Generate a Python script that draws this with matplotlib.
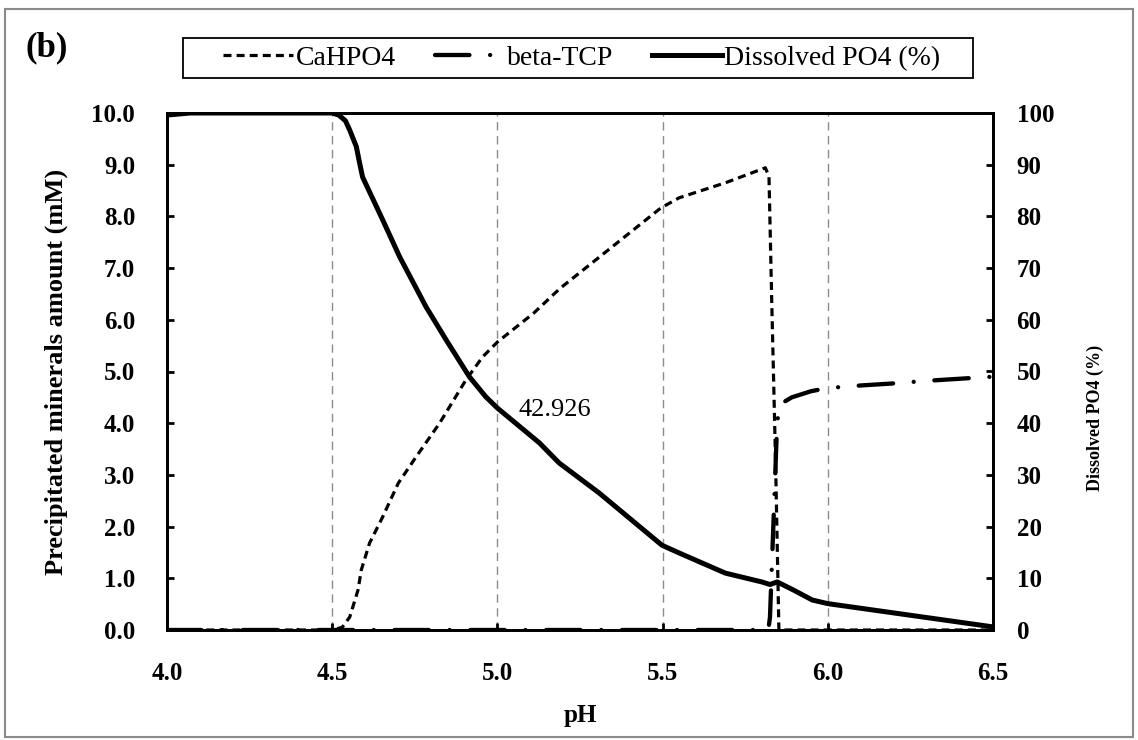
import matplotlib
matplotlib.use('Agg')
import matplotlib.pyplot as plt
from matplotlib.patches import Rectangle
from matplotlib.ticker import FormatStrFormatter

plt.rcParams['font.family'] = ['Liberation Serif', 'DejaVu Serif']

# CaHPO4 precipitated (mM)
ph_ca = [4.0, 4.5, 4.53, 4.553, 4.578, 4.588, 4.613, 4.653, 4.70, 4.754,
         4.825, 4.905, 4.955, 5.0, 5.11, 5.19, 5.3, 5.4, 5.494, 5.55, 5.69,
         5.811, 5.822, 5.83, 5.842, 5.852, 6.0, 6.5]
ca = [0, 0, 0.05, 0.25, 0.77, 1.16, 1.68, 2.19, 2.84, 3.35,
      4.0, 4.84, 5.28, 5.57, 6.13, 6.61, 7.17, 7.68, 8.16, 8.36, 8.65,
      8.94, 8.77, 6.44, 3.23, 0, 0, 0]

# beta-TCP precipitated (mM)
ph_tcp = [4.0, 5.82, 5.825, 5.846, 5.852, 5.87, 5.891, 5.95, 6.0, 6.1,
          6.2, 6.3, 6.4, 6.5]
tcp = [0, 0, 0.25, 3.9, 4.35, 4.42, 4.5, 4.62, 4.68, 4.73,
       4.77, 4.82, 4.86, 4.9]

# dissolved PO4 (%)
ph_po4 = [4.0, 4.07, 4.5, 4.52, 4.54, 4.553, 4.573, 4.583, 4.592, 4.653,
          4.704, 4.784, 4.845, 4.915, 4.965, 5.0, 5.127, 5.187, 5.308,
          5.498, 5.55, 5.69, 5.80, 5.825, 5.847, 5.9, 5.953, 6.0, 6.5]
po4 = [99.6, 100, 100, 99.6, 98.5, 96.7, 93.5, 90.3, 87.6, 79.3,
       72.2, 62.5, 56.1, 49.0, 45.1, 42.926, 36.2, 32.3, 26.5,
       16.4, 14.9, 11.0, 9.3, 8.8, 9.3, 7.6, 5.8, 5.1, 0.6]

x_ticks = [4.0, 4.5, 5.0, 5.5, 6.0, 6.5]
y_ticks = [0, 1, 2, 3, 4, 5, 6, 7, 8, 9, 10]
y2_ticks = [0, 10, 20, 30, 40, 50, 60, 70, 80, 90, 100]

fig = plt.figure(figsize=(11.38, 7.4), dpi=100)
ax = fig.add_axes([167 / 1138, 1 - 630 / 740, 826 / 1138, 517 / 740])
ax2 = ax.twinx()

l1, = ax.plot(ph_ca, ca, color='black', lw=2.3, linestyle=(0, (2.5, 1.6)),
              label='CaHPO4')
l2, = ax.plot(ph_tcp, tcp, color='black', lw=3.1,
              linestyle=(0, (8, 4.8, 0.01, 4.8)), dash_capstyle='round',
              label='beta-TCP')
l3, = ax2.plot(ph_po4, po4, color='black', lw=3.6,
               label='Dissolved PO4 (%)')

ax.set_xlim(4.0, 6.5)
ax.set_ylim(0, 10)
ax2.set_ylim(0, 100)
ax.set_xticks(x_ticks)
ax.set_yticks(y_ticks)
ax2.set_yticks(y2_ticks)
ax.xaxis.set_major_formatter(FormatStrFormatter('%.1f'))
ax.yaxis.set_major_formatter(FormatStrFormatter('%.1f'))

ax.grid(axis='x', color='#8c8c8c', lw=1.0, linestyle=(0, (6, 4)))
ax.set_axisbelow(True)

for a in (ax, ax2):
    for s in a.spines.values():
        s.set_linewidth(2.0)
ax.tick_params(axis='both', direction='in', length=5, width=2,
               labelsize=18)
ax.tick_params(axis='x', pad=23)
ax.tick_params(axis='y', pad=23)
ax2.tick_params(axis='y', direction='in', length=5, width=2,
                labelsize=18, pad=17)
for lab in ax.get_xticklabels() + ax.get_yticklabels() + ax2.get_yticklabels():
    lab.set_fontweight('bold')

ax.set_xlabel('pH', fontsize=18, fontweight='bold', labelpad=14)
ax.set_ylabel('Precipitated minerals amount (mM)', fontsize=19,
              fontweight='bold')
ax.yaxis.set_label_coords(-0.12, 0.5)
ax2.set_ylabel('Dissolved PO4 (%)', fontsize=13, fontweight='bold')
ax2.yaxis.set_label_coords(1.113, 0.41)

ax.text(5.063, 4.26, '42.926', fontsize=19, ha='left', va='center')

# legend frame drawn on its own, entries centred inside it
fig.patches.append(Rectangle((183 / 1138, 1 - 78 / 740), 790 / 1138,
                             40 / 740, transform=fig.transFigure,
                             fill=False, edgecolor='black', lw=1.3))
fig.legend([l1, l2, l3], ['CaHPO4', 'beta-TCP', 'Dissolved PO4 (%)'],
           loc='center', bbox_to_anchor=(582 / 1138, 1 - 58 / 740),
           ncol=3, fontsize=20, frameon=False, handlelength=2.5,
           handletextpad=0.1, columnspacing=1.4, borderpad=0)

fig.text(47 / 1138, 1 - 48 / 740, '(b)', fontsize=25, fontweight='bold',
         ha='center', va='center')

fig.patches.append(Rectangle((0.004, 0.004), 0.992, 0.984,
                             transform=fig.transFigure, fill=False,
                             edgecolor='#8a8a8a', lw=1.5))

fig.savefig('out.png', dpi=100)
